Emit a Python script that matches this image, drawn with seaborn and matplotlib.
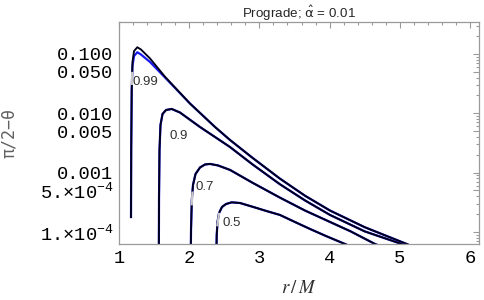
import matplotlib
matplotlib.use("Agg")
import matplotlib.pyplot as plt
import numpy as np
import pandas as pd
import seaborn as sns
from matplotlib.ticker import FixedLocator, FixedFormatter, NullFormatter

# --- data (r/M, pi/2 - theta) ---
spins = ["0.99", "0.9", "0.7", "0.5"]

r_099 = [1.171, 1.174, 1.181, 1.192, 1.214, 1.261, 1.313, 1.442, 1.655, 2.011,
         2.368, 2.581, 2.9, 3.293, 3.65, 4.006, 4.5, 5.098, 5.573]
y_099_black = [1.71e-4, 2.4e-3, 0.0247, 0.0733, 0.112, 0.130, 0.119, 0.084, 0.0414, 0.01462,
               5.87e-3, 3.55e-3, 1.78e-3, 7.9e-4, 4.07e-4, 2.29e-4, 1.2e-4, 6.25e-5, 3.6e-5]
y_099_blue = [1.71e-4, 2.4e-3, 0.0247, 0.0628, 0.0925, 0.107, 0.098, 0.0733, 0.0402, 0.01462,
              5.87e-3, 3.55e-3, 1.78e-3, 7.9e-4, 4.07e-4, 2.29e-4, 1.2e-4, 6.25e-5, 3.6e-5]

r_09 = [1.567, 1.570, 1.577, 1.591, 1.620, 1.670, 1.751, 1.869, 2.154, 2.581,
        2.9, 3.293, 3.65, 4.006, 4.5, 5.027, 5.573]
y_09 = [3.1e-5, 3.45e-4, 2.4e-3, 6.36e-3, 9.73e-3, 0.01137, 0.01183, 0.0103, 5.87e-3, 2.70e-3,
        1.38e-3, 6.35e-4, 3.39e-4, 1.93e-4, 1.02e-4, 6.25e-5, 3.1e-5]

r_07 = [2.021, 2.026, 2.037, 2.054, 2.090, 2.154, 2.225, 2.296, 2.410, 2.581,
        2.9, 3.293, 3.65, 4.006, 4.3, 4.647, 5.288]
y_07 = [3.1e-5, 1.08e-4, 3.45e-4, 6.18e-4, 9.47e-4, 1.22e-3, 1.37e-3, 1.40e-3, 1.32e-3, 1.11e-3,
        6.76e-4, 3.78e-4, 2.29e-4, 1.47e-4, 1.02e-4, 6.25e-5, 3.1e-5]

r_05 = [2.385, 2.392, 2.403, 2.425, 2.467, 2.524, 2.605, 2.724, 2.937, 3.1,
        3.293, 3.5, 3.721, 3.95, 4.219, 4.718]
y_05 = [3.1e-5, 8.87e-5, 1.47e-4, 2.08e-4, 2.63e-4, 2.95e-4, 3.15e-4, 3.07e-4, 2.58e-4, 2.25e-4,
        1.93e-4, 1.48e-4, 1.12e-4, 8.5e-5, 6.25e-5, 3.4e-5]

# contour label positions (r, value) and the light gap on the rising branch
label_r = [1.377, 1.85, 2.225, 2.61]
label_y = [0.0337, 0.00414, 5.78e-4, 1.43e-4]
gap_lo = [0.030, None, 2.8e-4, 1.24e-4]
gap_hi = [0.050, None, 4.8e-4, 2.1e-4]

yticks = [0.1, 0.05, 0.01, 0.005, 0.001, 5e-4, 1e-4]
ytick_labels = ["0.100", "0.050", "0.010", "0.005", "0.001",
                r"5.$\times$10$^{-4}$", r"1.$\times$10$^{-4}$"]
xticks = [1, 2, 3, 4, 5, 6]

sns.set_style("white")
plt.rcParams["mathtext.fontset"] = "custom"
plt.rcParams["mathtext.rm"] = "Liberation Mono"
plt.rcParams["mathtext.it"] = "Liberation Mono:italic"
plt.rcParams["mathtext.default"] = "rm"

fig = plt.figure(figsize=(4.84, 3.0), dpi=100)
ax = fig.add_axes([119 / 484, 56 / 300, 360 / 484, 222 / 300])
ax.set_yscale("log")

curves = [
    (r_099, y_099_black, y_099_blue),
    (r_09, y_09, y_09),
    (r_07, y_07, y_07),
    (r_05, y_05, y_05),
]

for i, (r, yb, yl) in enumerate(curves):
    df = pd.DataFrame({"r": r, "black": yb, "blue": yl})
    sns.lineplot(data=df, x="r", y="blue", sort=False, estimator=None, ax=ax,
                 color="#1818f0", lw=1.6, solid_capstyle="butt")
    sns.lineplot(data=df, x="r", y="black", sort=False, estimator=None, ax=ax,
                 color="#000018", lw=1.35, solid_capstyle="butt")
    if gap_lo[i] is not None:
        k = int(np.argmax(yb))
        lr = np.log10(yb[: k + 1])
        r_lo = np.interp(np.log10(gap_lo[i]), lr, r[: k + 1])
        r_hi = np.interp(np.log10(gap_hi[i]), lr, r[: k + 1])
        ax.plot([r_lo, r_hi], [gap_lo[i], gap_hi[i]], color="#c8c8c8", lw=1.6,
                solid_capstyle="butt", zorder=5)
    ax.text(label_r[i], label_y[i], spins[i], ha="center", va="center",
            fontsize=9.5, family="Liberation Sans", color="#303030")

ax.set_xlim(1.0, 6.128)
ax.set_ylim(6.25e-5, 0.3464)

ax.xaxis.set_major_locator(FixedLocator(xticks))
ax.xaxis.set_minor_locator(FixedLocator(np.arange(1.0, 6.13, 0.2)))
ax.set_xticklabels([str(t) for t in xticks], family="Liberation Mono", fontsize=13.5)

ax.yaxis.set_major_locator(FixedLocator(yticks))
ax.yaxis.set_major_formatter(FixedFormatter(ytick_labels))
minor_y = [m * 10.0 ** e for e in range(-5, 0) for m in range(2, 10) if m != 5]
ax.yaxis.set_minor_locator(FixedLocator(minor_y))
ax.yaxis.set_minor_formatter(NullFormatter())
for lab in ax.get_yticklabels():
    lab.set_family("Liberation Mono")
    lab.set_fontsize(13.5)

ax.tick_params(which="both", direction="in", top=True, right=True,
               color="#9a9a9a", width=0.8, labelcolor="black")
ax.tick_params(which="major", length=4, pad=4)
ax.tick_params(which="minor", length=2.2)
for sp in ax.spines.values():
    sp.set_color("#9a9a9a")
    sp.set_linewidth(0.9)

ax.set_xlabel(r"$\mathit{r}\,/\,\mathit{M}$", fontsize=13.5, color="#303030",
              math_fontfamily="stix")
ax.xaxis.set_label_coords(0.5, -0.155)
ax.xaxis.label.set_va("top")
ax.set_ylabel("π/2−θ", fontsize=12, color="#606060", family="DejaVu Sans Mono")
ax.yaxis.set_label_coords(-0.28, 0.5)

ax.set_title(r"Prograde; $\hat{\alpha}$ = 0.01", fontsize=9.6, family="Liberation Sans",
             math_fontfamily="dejavusans", pad=3)

fig.savefig("out.png", dpi=100)
